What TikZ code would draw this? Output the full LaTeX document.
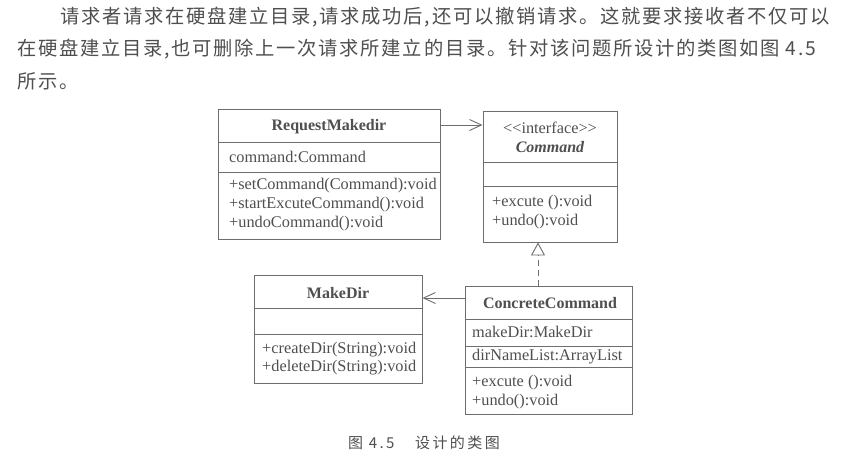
\documentclass[tikz,border=0pt]{standalone}
\usepackage{fontspec}
\setmainfont{Liberation Serif}
\newfontfamily\cjk[LetterSpace=9]{Noto Sans CJK SC}
\newfontfamily\cjkcap[LetterSpace=16]{Noto Sans CJK SC}
\usetikzlibrary{arrows.meta}
\definecolor{inkgray}{HTML}{4F4F4F}
\definecolor{linegray}{HTML}{6E6E6E}
\tikzset{
  classbox/.style={draw=linegray, line width=0.9pt, inner sep=0pt},
  classname/.style={font=\fontsize{16}{18}\selectfont\bfseries, text=inkgray, inner sep=0pt},
  member/.style={font=\fontsize{16.3}{18}\selectfont, text=inkgray, anchor=west, inner sep=0pt},
  sepline/.style={draw=linegray, line width=0.9pt},
  assoc/.style={draw=linegray, line width=0.9pt, -{Straight Barb[length=12pt,width=11pt]}},
  realize/.style={draw=linegray, line width=0.9pt, dash pattern=on 6pt off 4pt, -{Triangle[open,length=13pt,width=14pt]}},
  para/.style={font=\cjk\fontsize{19.3}{21}\selectfont, text=inkgray, anchor=west, inner sep=0pt},
  captext/.style={font=\cjkcap\fontsize{15}{17}\selectfont, text=inkgray, anchor=west, inner sep=0pt}
}

\begin{document}
\begin{tikzpicture}[x=1pt,y=-1pt]
                \useasboundingbox[fill=white] (0,0) rectangle (855,475);
                \node[para] (line1) at (60,17) {请求者请求在硬盘建立目录,请求成功后,还可以撤销请求。这就要求接收者不仅可以};
                \node[para] (line2) at (17,49) {在硬盘建立目录,也可删除上一次请求所建立的目录。针对该问题所设计的类图如图 4.5};
                \node[para] (line3) at (17,81) {所示。};

                \node[classbox, minimum width=222pt, minimum height=130pt] (req) at (329,174) {};
                \node[classname] (reqname) at (329,127) {RequestMakedir};
                \draw[sepline] (req.west |- 0,142) -- (req.east |- 0,142);
                \draw[sepline] (req.west |- 0,172) -- (req.east |- 0,172);
                \node[member] (reqattr) at (229,157) {command:Command};
                \node[member] (reqop1) at (229,186) {+setCommand(Command):void};
                \node[member] (reqop2) at (229,205) {+startExcuteCommand():void};
                \node[member] (reqop3) at (229,224) {+undoCommand():void};

                \node[classbox, minimum width=134pt, minimum height=131pt] (cmd) at (550,176.5) {};
                \node[member, anchor=center] (cmdstereo) at (550,128) {<\kern0pt<interface>\kern0pt>};
                \node[classname, font=\fontsize{16}{18}\selectfont\bfseries\itshape] (cmdname) at (550,147) {Command};
                \draw[sepline] (cmd.west |- 0,162) -- (cmd.east |- 0,162);
                \draw[sepline] (cmd.west |- 0,186) -- (cmd.east |- 0,186);
                \node[member] (cmdop1) at (492,203) {+excute ():void};
                \node[member] (cmdop2) at (492,222) {+undo():void};

                \node[classbox, minimum width=168pt, minimum height=108pt] (mkdir) at (338,329) {};
                \node[classname] (mkdirname) at (338,293) {MakeDir};
                \draw[sepline] (mkdir.west |- 0,308) -- (mkdir.east |- 0,308);
                \draw[sepline] (mkdir.west |- 0,334) -- (mkdir.east |- 0,334);
                \node[member] (mkdirop1) at (262,350) {+createDir(String):void};
                \node[member] (mkdirop2) at (262,368) {+deleteDir(String):void};

                \node[classbox, minimum width=167pt, minimum height=128pt] (conc) at (548.5,350) {};
                \node[classname] (concname) at (550,303) {ConcreteCommand};
                \draw[sepline] (conc.west |- 0,319) -- (conc.east |- 0,319);
                \draw[sepline] (conc.west |- 0,346) -- (conc.east |- 0,346);
                \draw[sepline] (conc.west |- 0,367) -- (conc.east |- 0,367);
                \node[member] (concattr1) at (472,332) {makeDir:MakeDir};
                \node[member] (concattr2) at (472,357) {dirNameList:ArrayList};
                \node[member] (concop1) at (472,383) {+excute ():void};
                \node[member] (concop2) at (472,402) {+undo():void};

                \draw[assoc] (req.east |- 0,125) -- (cmd.west |- 0,125);
                \draw[assoc] (conc.west |- 0,298) -- (mkdir.east |- 0,298);
                \draw[realize] (conc.north -| 538,0) -- (cmd.south -| 538,0);

                \node[captext] (capnum) at (348,443) {图 4.5};
                \node[captext] (captitle) at (415,443) {设计的类图};
            \end{tikzpicture}
\end{document}
